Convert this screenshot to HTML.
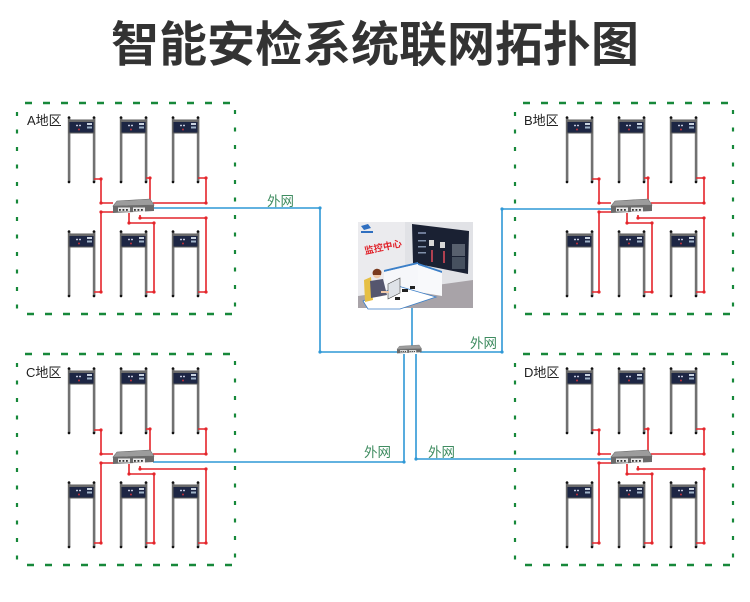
<!DOCTYPE html>
<html><head><meta charset="utf-8">
<style>
html,body{margin:0;padding:0;background:#fff;}
body{width:750px;height:602px;overflow:hidden;}
svg{display:block;}
</style></head>
<body>
<svg width="750" height="602" viewBox="0 0 750 602" xmlns="http://www.w3.org/2000/svg">
<defs>
  <g id="gate">
    <rect x="-1.2" y="0" width="2.6" height="65" fill="#717171"/>
    <rect x="23.8" y="0" width="2.6" height="65" fill="#717171"/>
    <rect x="0" y="3" width="25" height="13" fill="#1d2644" stroke="#5d5d5d" stroke-width="1"/>
    <rect x="0" y="3" width="25" height="2" fill="#6a6a6a"/>
    <circle cx="8" cy="8.5" r="0.9" fill="#e8ecff"/>
    <circle cx="11" cy="8.5" r="0.9" fill="#e8ecff"/>
    <rect x="18" y="6" width="5" height="2" fill="#c9d3e0"/>
    <rect x="18" y="9.5" width="5" height="2" fill="#9fb3c8"/>
    <circle cx="10" cy="12.5" r="1" fill="#c0303a"/>
    <circle cx="0" cy="0.5" r="1.3" fill="#111"/>
    <circle cx="25" cy="0.5" r="1.3" fill="#111"/>
    <circle cx="0" cy="65" r="1.3" fill="#111"/>
    <circle cx="25" cy="65" r="1.3" fill="#111"/>
  </g>
  <g id="switch">
    <polygon points="4,2 37,0 41,6 0,7" fill="#9c9c9c" stroke="#6a6a6a" stroke-width="0.6"/>
    <polygon points="0,7 41,6 41,12 0,14" fill="#6b6b6b"/>
    <rect x="5" y="8.5" width="12" height="4" fill="#e9e9e9"/>
    <rect x="20" y="8.5" width="12" height="4" fill="#e9e9e9"/>
    <rect x="6" y="10" width="1.8" height="1.8" fill="#333"/>
    <rect x="9.5" y="10" width="1.8" height="1.8" fill="#333"/>
    <rect x="13" y="10" width="1.8" height="1.8" fill="#333"/>
    <rect x="21" y="10" width="1.8" height="1.8" fill="#333"/>
    <rect x="24.5" y="10" width="1.8" height="1.8" fill="#333"/>
    <rect x="28" y="10" width="1.8" height="1.8" fill="#333"/>
  </g>
  <g id="region">
    <line x1="25" y1="103" x2="232" y2="103" stroke="#17883a" stroke-width="2.5" stroke-dasharray="7 11"/>
    <line x1="27" y1="314" x2="232" y2="314" stroke="#17883a" stroke-width="2.5" stroke-dasharray="7 11"/>
    <line x1="17" y1="112" x2="17" y2="312" stroke="#17883a" stroke-width="2.2" stroke-dasharray="4 13.5"/>
    <line x1="235" y1="110" x2="235" y2="312" stroke="#17883a" stroke-width="2.2" stroke-dasharray="4 13.5"/>
    <use href="#gate" x="69" y="117"/>
    <use href="#gate" x="121" y="117"/>
    <use href="#gate" x="173" y="117"/>
    <use href="#gate" x="69" y="231"/>
    <use href="#gate" x="121" y="231"/>
    <use href="#gate" x="173" y="231"/>
    <g fill="none" stroke="#e4252b" stroke-width="1.6">
      <polyline points="94,179 101,179 101,203 113,203"/>
      <polyline points="146,178 150,178 150,203"/>
      <polyline points="198,178 206,178 206,203 153,203"/>
      <polyline points="113,212 101,212 101,292 94,292"/>
      <polyline points="129,213 129,223 154,223 154,292 146,292"/>
      <polyline points="140,215 140,218 206,218 206,292 198,292"/>
    </g>
    <g fill="#e4252b">
      <circle cx="101" cy="179" r="1.6"/><circle cx="101" cy="203" r="1.6"/>
      <circle cx="150" cy="178" r="1.6"/><circle cx="206" cy="178" r="1.6"/>
      <circle cx="206" cy="203" r="1.6"/><circle cx="101" cy="212" r="1.6"/>
      <circle cx="101" cy="292" r="1.6"/><circle cx="129" cy="223" r="1.6"/>
      <circle cx="154" cy="223" r="1.6"/><circle cx="154" cy="292" r="1.6"/>
      <circle cx="140" cy="218" r="1.6"/><circle cx="206" cy="218" r="1.6"/>
      <circle cx="206" cy="292" r="1.6"/>
    </g>
    <use href="#switch" x="113" y="199"/>
  </g>
</defs>

<text x="375" y="61" text-anchor="middle" font-family="'Liberation Sans','Noto Sans CJK SC',sans-serif" font-weight="bold" font-size="48" fill="#333">智能安检系统联网拓扑图</text>

<g fill="none" stroke="#2f98d6" stroke-width="1.6">
  <polyline points="153,208 320,208 320,352 398,352"/>
  <polyline points="420,352 502,352 502,209 612,209"/>
  <line x1="412" y1="308" x2="412" y2="347"/>
  <polyline points="404,354 404,462 153,462"/>
  <polyline points="416,354 416,459 612,459"/>
</g>
<g fill="#2f98d6">
  <circle cx="320" cy="208" r="1.6"/><circle cx="320" cy="352" r="1.6"/>
  <circle cx="502" cy="352" r="1.6"/><circle cx="502" cy="209" r="1.6"/>
  <circle cx="404" cy="462" r="1.6"/><circle cx="416" cy="459" r="1.6"/>
</g>

<use href="#region" x="0" y="0"/>
<use href="#region" x="498" y="0"/>
<use href="#region" x="0" y="251"/>
<use href="#region" x="498" y="251"/>

<g font-family="'Liberation Sans','Noto Sans CJK SC',sans-serif" font-size="13" fill="#222">
  <text x="27" y="125">A地区</text>
  <text x="524" y="125">B地区</text>
  <text x="26" y="377">C地区</text>
  <text x="524" y="377">D地区</text>
</g>

<g font-family="'Liberation Sans','Noto Sans CJK SC',sans-serif" font-size="13.5" fill="#3f8c60">
  <text x="267" y="206">外网</text>
  <text x="470" y="348">外网</text>
  <text x="364" y="457">外网</text>
  <text x="428" y="457">外网</text>
</g>

<g transform="translate(397,345) scale(0.6)">
  <use href="#switch" x="0" y="0"/>
</g>

<!-- Monitor center picture -->
<g>
  <rect x="358" y="222" width="115" height="86" fill="#ebebee"/>
  <polygon points="405,222 473,222 473,290 405,300" fill="#e1e2e6"/>
  <polygon points="358,296 473,280 473,308 358,308" fill="#a8a3a8"/>
  <!-- big screen -->
  <polygon points="412,224 469,231 468,274 413,263" fill="#1a2133"/>
  <rect x="418" y="232" width="8" height="2" fill="#6d7a96"/>
  <rect x="429" y="240" width="5" height="6" fill="#d8d8d8"/>
  <rect x="440" y="242" width="5" height="6" fill="#d8d8d8"/>
  <rect x="452" y="244" width="13" height="12" fill="#58606e"/>
  <rect x="452" y="257" width="13" height="12" fill="#46505f"/>
  <rect x="431" y="250" width="2" height="12" fill="#b04050"/>
  <rect x="443" y="251" width="2" height="12" fill="#b04050"/>
  <rect x="418" y="240" width="8" height="1.5" fill="#8090aa"/>
  <rect x="418" y="246" width="8" height="1.5" fill="#8090aa"/>
  <rect x="418" y="252" width="8" height="1.5" fill="#8090aa"/>
  <!-- logo -->
  <polygon points="361,226 368,224 371,228 364,230" fill="#2f6fc0"/>
  <rect x="361" y="231" width="12" height="2" fill="#2f6fc0"/>
  <!-- red label -->
  <text x="364" y="251" transform="rotate(-12 380 247)" font-family="'Liberation Sans','Noto Sans CJK SC',sans-serif" font-weight="bold" font-size="9.5" fill="#e0242c">监控中心</text>
  <!-- partition walls -->
  <polygon points="384,270 418,262 418,264 384,272" fill="#3b7fc8"/>
  <polygon points="384,272 418,264 418,292 384,300" fill="#f6f7fa"/>
  <polygon points="418,263 442,271 442,273 418,265" fill="#3b7fc8"/>
  <polygon points="418,265 442,273 442,296 418,292" fill="#f8f9fb"/>
  <!-- desk -->
  <polygon points="363,301 398,286 436,297 400,309 368,309" fill="#ffffff" stroke="#3b7fc8" stroke-width="0.8"/>
  <!-- monitor -->
  <polygon points="388,284 400,278 400,293 388,299" fill="#dfe3e8" stroke="#444" stroke-width="0.6"/>
  <rect x="402" y="289" width="6" height="3" fill="#222"/>
  <rect x="410" y="286" width="5" height="3" fill="#222"/>
  <rect x="395" y="297" width="5" height="3" fill="#222"/>
  <!-- chair -->
  <polygon points="364,280 371,277 373,300 365,302" fill="#e6bf43"/>
  <!-- person -->
  <circle cx="377" cy="274" r="4.2" fill="#f0c9a8"/>
  <path d="M372.5,273 A4.6,4.6 0 0 1 381.5,272 L381,275 L373,275 Z" fill="#7a3a1e"/>
  <polygon points="370,281 383,279 387,295 371,298" fill="#55566e"/>
  <rect x="381" y="291" width="8" height="2" fill="#f0c9a8"/>
</g>
</svg>
</body></html>
